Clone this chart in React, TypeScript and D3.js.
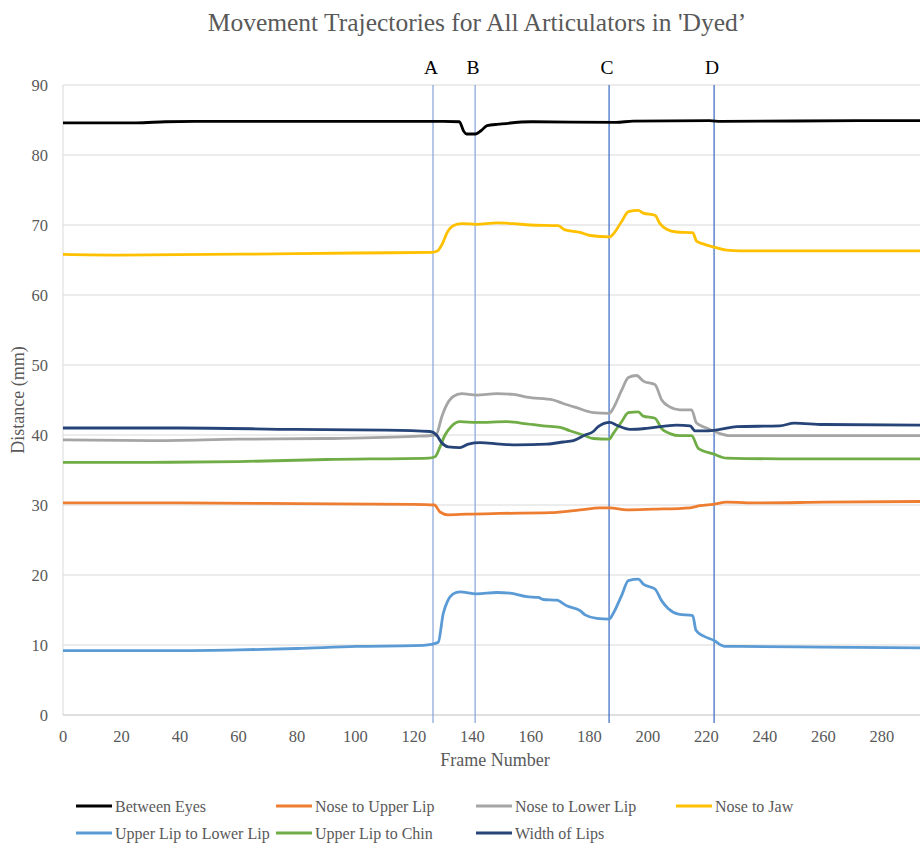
import React from 'react'
import * as d3 from 'd3'

// frame / distance (mm) pairs
const betweenEyes: [number, number][] = [
  [0, 84.6], [25, 84.6], [35, 84.75], [45, 84.8], [100, 84.8], [130, 84.8], [135.5, 84.75],
  [137, 83.4], [138, 83.0], [141, 83.0], [143, 83.5], [145, 84.2], [149, 84.4], [160, 84.75],
  [189, 84.65], [195, 84.85], [221, 84.9], [225, 84.8], [272, 84.9], [293, 84.9],
]
const noseToUpperLip: [number, number][] = [
  [0, 30.3], [40, 30.3], [80, 30.2], [120, 30.1], [127, 30.0], [128.9, 29.0], [131.7, 28.6],
  [138, 28.7], [149.4, 28.8], [166.5, 28.9], [176.8, 29.3], [183.6, 29.6], [187, 29.6],
  [192.7, 29.3], [201.8, 29.4], [214.4, 29.6], [217.8, 29.9], [222.3, 30.1], [226.9, 30.4],
  [238, 30.3], [260, 30.4], [293, 30.5],
]
const noseToLowerLip: [number, number][] = [
  [0, 39.3], [30, 39.2], [60, 39.4], [90, 39.5], [120, 39.8], [127.5, 40.0], [129.5, 42.6],
  [130.6, 43.8], [133.4, 45.5], [136.3, 45.9], [141.4, 45.7], [148.3, 45.9], [154, 45.8],
  [158.5, 45.4], [167.6, 45.0], [171, 44.5], [175.6, 43.9], [181.3, 43.2], [186.8, 43.1],
  [188.1, 43.8], [191, 46.4], [193.3, 48.2], [196.1, 48.5], [198.4, 47.7], [202.4, 47.2],
  [204.7, 45.0], [207.5, 44.0], [210.9, 43.6], [214.9, 43.6], [216.6, 41.7], [220, 41.0],
  [224.6, 40.2], [228, 39.9], [245, 39.9], [293, 39.9],
]
const noseToJaw: [number, number][] = [
  [0, 65.8], [20, 65.7], [50, 65.8], [80, 65.9], [100, 66.0], [126, 66.1], [128, 66.3],
  [130, 67.6], [131.2, 68.8], [133.4, 69.9], [136.3, 70.2], [141.4, 70.1], [148.3, 70.3],
  [154, 70.2], [159.7, 70.0], [169.3, 69.9], [171.6, 69.3], [176.8, 68.95], [180.2, 68.5],
  [187, 68.3], [188.1, 68.7], [191, 70.5], [193.3, 71.9], [196.7, 72.1], [198.4, 71.7],
  [202.4, 71.4], [204.1, 70.2], [206.4, 69.4], [209.8, 69.0], [215.3, 68.9], [216.6, 67.7],
  [218.9, 67.3], [222.9, 66.8], [226.9, 66.4], [231.5, 66.3], [293, 66.3],
]
const upperToLowerLip: [number, number][] = [
  [0, 9.2], [40, 9.2], [60, 9.3], [80, 9.5], [100, 9.8], [120, 9.9], [126, 10.1],
  [128.3, 10.4], [130, 14.5], [131.4, 16.2], [133.4, 17.3], [135.7, 17.6], [141.4, 17.3],
  [148.3, 17.5], [152.8, 17.4], [158.5, 16.9], [162.5, 16.8], [164.2, 16.5], [168.8, 16.4],
  [172.2, 15.6], [176.8, 14.9], [178.5, 14.3], [182.5, 13.8], [186.8, 13.7], [188.1, 14.5],
  [191, 17.1], [193.3, 19.2], [196.7, 19.4], [198.4, 18.7], [202.4, 18.0], [204.7, 16.3],
  [206.9, 15.2], [210.4, 14.4], [215.3, 14.2], [216.4, 12.1], [218.9, 11.3], [222.3, 10.7],
  [226.3, 9.8], [231.5, 9.8], [260, 9.7], [293, 9.6],
]
const upperLipToChin: [number, number][] = [
  [0, 36.1], [30, 36.1], [60, 36.2], [90, 36.5], [125, 36.7], [127.2, 36.9], [128.9, 38.3],
  [130.6, 40.0], [132.9, 41.3], [135.7, 41.9], [141.4, 41.8], [151.7, 41.9], [158.5, 41.6],
  [164.2, 41.3], [170, 41.1], [173.3, 40.6], [177.9, 40.0], [181.3, 39.5], [186.8, 39.4],
  [188.1, 40.2], [191, 41.9], [193.3, 43.2], [196.7, 43.3], [198.4, 42.7], [202.4, 42.4],
  [204.7, 40.9], [207.5, 40.2], [210.9, 39.9], [214.9, 39.9], [217.2, 38.1], [222.3, 37.3],
  [226.9, 36.7], [245, 36.6], [293, 36.6],
]
const widthOfLips: [number, number][] = [
  [0, 41.0], [40, 41.0], [80, 40.8], [110, 40.7], [125.5, 40.5], [127.7, 40.0], [129.5, 38.9],
  [131.7, 38.3], [135.7, 38.2], [138.6, 38.7], [142.6, 38.9], [149.4, 38.7], [155.1, 38.6],
  [165.4, 38.7], [171, 39.0], [174.5, 39.2], [178.5, 40.0], [181.3, 40.5], [183, 41.2],
  [187, 41.8], [189.3, 41.4], [193.8, 40.8], [199.5, 40.95], [206.4, 41.3], [209.8, 41.4],
  [214.4, 41.3], [216.1, 40.6], [220, 40.6], [224.6, 40.8], [230.3, 41.2], [245, 41.3],
  [250, 41.7], [260, 41.5], [293, 41.4],
]

const seriesNames = [
  'Between Eyes', 'Nose to Upper Lip', 'Nose to Lower Lip', 'Nose to Jaw',
  'Upper Lip to Lower Lip', 'Upper Lip to Chin', 'Width of Lips',
]
const seriesData = [
  betweenEyes, noseToUpperLip, noseToLowerLip, noseToJaw,
  upperToLowerLip, upperLipToChin, widthOfLips,
]
const seriesColors = ['#000000', '#ED7D31', '#A5A5A5', '#FFC000', '#5B9BD5', '#70AD47', '#264478']

const markerLabels = ['A', 'B', 'C', 'D']
const markerFrames = [126.5, 140.9, 186.7, 222.6]
const markerColors = ['#8FAADC', '#8FAADC', '#4472C4', '#4472C4']

const xTicks = d3.range(0, 281, 20)
const yTicks = d3.range(0, 91, 10)

const FONT = 'Liberation Serif'

export default function App() {
  const svgRef = React.useRef<SVGSVGElement>(null)
  const width = 920
  const height = 844
  const margin = { top: 85, right: 0, bottom: 129, left: 63 }

  React.useEffect(() => {
    const svg = d3.select(svgRef.current)
    svg.selectAll('*').remove()

    const x = d3.scaleLinear().domain([0, 293]).range([margin.left, width - margin.right])
    const y = d3.scaleLinear().domain([0, 90]).range([height - margin.bottom, margin.top])

    svg.append('rect').attr('width', width).attr('height', height).attr('fill', 'white')

    // Title
    svg
      .append('text')
      .attr('x', 477)
      .attr('y', 31)
      .attr('text-anchor', 'middle')
      .attr('font-family', FONT)
      .attr('font-size', 25.5)
      .attr('fill', '#595959')
      .text("Movement Trajectories for All Articulators in 'Dyed’")

    // Horizontal gridlines
    svg
      .append('g')
      .selectAll('line')
      .data(yTicks.filter((d) => d > 0))
      .enter()
      .append('line')
      .attr('x1', margin.left)
      .attr('x2', width)
      .attr('y1', (d) => y(d))
      .attr('y2', (d) => y(d))
      .attr('stroke', '#d9d9d9')
      .attr('stroke-width', 1)

    // Left edge line
    svg
      .append('line')
      .attr('x1', margin.left)
      .attr('x2', margin.left)
      .attr('y1', y(90))
      .attr('y2', y(0))
      .attr('stroke', '#d9d9d9')

    // x axis line
    svg
      .append('line')
      .attr('x1', margin.left)
      .attr('x2', width)
      .attr('y1', y(0))
      .attr('y2', y(0))
      .attr('stroke', '#bfbfbf')
      .attr('stroke-width', 1)

    // Y tick labels
    svg
      .append('g')
      .selectAll('text')
      .data(yTicks)
      .enter()
      .append('text')
      .attr('x', margin.left - 15)
      .attr('y', (d) => y(d))
      .attr('dy', '0.35em')
      .attr('text-anchor', 'end')
      .attr('font-family', FONT)
      .attr('font-size', 16.5)
      .attr('fill', '#595959')
      .text((d) => d)

    // X tick labels
    svg
      .append('g')
      .selectAll('text')
      .data(xTicks)
      .enter()
      .append('text')
      .attr('x', (d) => x(d))
      .attr('y', y(0) + 21)
      .attr('dy', '0.35em')
      .attr('text-anchor', 'middle')
      .attr('font-family', FONT)
      .attr('font-size', 16.5)
      .attr('fill', '#595959')
      .text((d) => d)

    // Axis titles
    svg
      .append('text')
      .attr('transform', `translate(24, ${(y(0) + y(90)) / 2}) rotate(-90)`)
      .attr('text-anchor', 'middle')
      .attr('font-family', FONT)
      .attr('font-size', 18)
      .attr('fill', '#595959')
      .text('Distance (mm)')

    svg
      .append('text')
      .attr('x', 495)
      .attr('y', 766)
      .attr('text-anchor', 'middle')
      .attr('font-family', FONT)
      .attr('font-size', 18)
      .attr('fill', '#595959')
      .text('Frame Number')

    // Event markers
    markerFrames.forEach((f, i) => {
      svg
        .append('line')
        .attr('x1', x(f))
        .attr('x2', x(f))
        .attr('y1', y(90))
        .attr('y2', y(0) + 8)
        .attr('stroke', markerColors[i])
        .attr('stroke-width', 1.3)
      svg
        .append('text')
        .attr('x', x(f) - 2)
        .attr('y', 74)
        .attr('text-anchor', 'middle')
        .attr('font-family', FONT)
        .attr('font-size', 19.5)
        .attr('fill', '#000')
        .text(markerLabels[i])
    })

    // Series lines
    const line = d3
      .line<[number, number]>()
      .x((d) => x(d[0]))
      .y((d) => y(d[1]))
      .curve(d3.curveMonotoneX)

    seriesData.forEach((data, i) => {
      svg
        .append('path')
        .datum(data)
        .attr('fill', 'none')
        .attr('stroke', seriesColors[i])
        .attr('stroke-width', 2.8)
        .attr('stroke-linejoin', 'round')
        .attr('d', line)
    })

    // Legend
    const legend = svg.append('g')
    seriesNames.forEach((name, i) => {
      const lx = 76 + (i % 4) * 200
      const ly = i < 4 ? 806 : 833
      legend
        .append('line')
        .attr('x1', lx)
        .attr('x2', lx + 36)
        .attr('y1', ly)
        .attr('y2', ly)
        .attr('stroke', seriesColors[i])
        .attr('stroke-width', 3)
      legend
        .append('text')
        .attr('x', lx + 39)
        .attr('y', ly)
        .attr('dy', '0.35em')
        .attr('font-family', FONT)
        .attr('font-size', 16)
        .attr('fill', '#595959')
        .text(name)
    })
  }, [])

  return (
    <svg
      ref={svgRef}
      width={width}
      height={height}
      style={{ position: 'absolute', left: 0, top: 0 }}
    ></svg>
  )
}
